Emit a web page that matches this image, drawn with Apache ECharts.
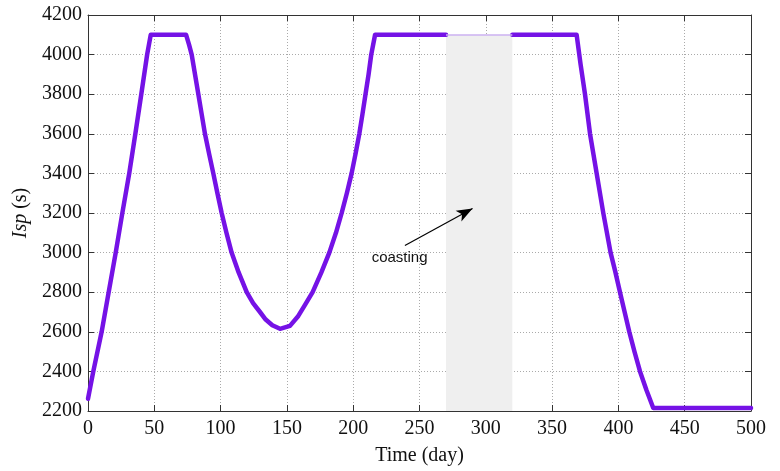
<!DOCTYPE html>
<html>
<head>
<meta charset="utf-8">
<script src="https://cdn.jsdelivr.net/npm/echarts@6/dist/echarts.min.js"></script>
<style>html,body{margin:0;padding:0;background:#fff;}#c{width:780px;height:471px;}</style>
</head>
<body>
<div id="c"></div>
<script>
// Time (day)
const timeDays = [0, 4, 10.3, 15.6, 20.9, 25.9, 31.1, 35.7, 40.2, 44.6, 47.3,
  74, 76.2, 78.2, 80.7, 83.2, 85.7, 88.2, 91.3, 94.5, 97.6, 100.8, 104.4, 108.3, 113.6, 119.7, 124.5, 129.7, 134, 139, 144.8,
  152.3, 158.6, 164, 169.4, 176, 182, 187, 191.3, 195.2, 198.8, 201.8, 204.6, 207, 209.3, 211.6, 213.6, 216.5,
  270, 295, 320,
  368.5, 371.5, 374.8, 378.6, 383.6, 388.6, 394.1, 397.6, 401.2, 404.7, 408.2, 412.2, 416.3, 421.2, 426.3, 500];
// Isp (s); null = coasting gap
const ispValues = [2262, 2400, 2600, 2800, 3000, 3200, 3400, 3600, 3800, 4000, 4100,
  4100, 4050, 4000, 3900, 3800, 3700, 3600, 3500, 3400, 3300, 3200, 3100, 3000, 2900, 2800, 2745, 2700, 2662, 2633, 2615,
  2630, 2680, 2740, 2800, 2900, 3000, 3100, 3200, 3300, 3400, 3500, 3600, 3700, 3800, 3900, 4000, 4100,
  4100, null, 4100,
  4100, 3950, 3800, 3600, 3400, 3200, 3000, 2905, 2800, 2700, 2600, 2498, 2400, 2305, 2215, 2215];
const coastStart = 270, coastEnd = 320, coastTop = 4100;
const xTicks = [0, 50, 100, 150, 200, 250, 300, 350, 400, 450, 500];
const yTicks = [2200, 2400, 2600, 2800, 3000, 3200, 3400, 3600, 3800, 4000, 4200];
const arrowFrom = [239, 3036], arrowTo = [290, 3223];
const notePos = [235, 2971];
const noteText = 'coasting';

const chart = echarts.init(document.getElementById('c'), null, {renderer: 'canvas'});
const serif = 'Liberation Serif, Times New Roman, serif';
const axisCol = '#333';
const xMin = xTicks[0], xMax = xTicks[xTicks.length - 1];
const yMin = yTicks[0], yMax = yTicks[yTicks.length - 1];
const grid = {left: 88, top: 15, right: 29, bottom: 59};
const common = {
  axisLine: {show: true, onZero: false, lineStyle: {color: axisCol, width: 1}},
  axisTick: {show: true, inside: true, length: 6, lineStyle: {color: axisCol}}
};
chart.setOption({
  animation: false,
  backgroundColor: '#fff',
  grid: grid,
  xAxis: [
    Object.assign({}, common, {
      type: 'value', min: xMin, max: xMax, interval: 50, position: 'bottom',
      axisLabel: {color: '#111', fontFamily: serif, fontSize: 20, margin: 8, formatter: v => String(v)},
      splitLine: {show: true, lineStyle: {type: [1, 2], color: '#aaa', width: 1}},
      name: 'Time (day)', nameLocation: 'middle', nameGap: 35,
      nameTextStyle: {color: '#111', fontFamily: serif, fontSize: 20}
    }),
    Object.assign({}, common, {
      type: 'value', min: xMin, max: xMax, interval: 50, position: 'top',
      axisLabel: {show: false}, splitLine: {show: false}
    })
  ],
  yAxis: [
    Object.assign({}, common, {
      type: 'value', min: yMin, max: yMax, interval: 200, position: 'left',
      axisLabel: {color: '#111', fontFamily: serif, fontSize: 20, margin: 6, formatter: v => String(v)},
      splitLine: {show: true, lineStyle: {type: [1, 2], color: '#aaa', width: 1}},
      name: '{i|Isp} (s)', nameLocation: 'middle', nameGap: 55, nameRotate: 90,
      nameTextStyle: {color: '#111', fontFamily: serif, fontSize: 20,
        rich: {i: {fontStyle: 'italic', fontFamily: serif, fontSize: 20, color: '#111'}}}
    }),
    Object.assign({}, common, {
      type: 'value', min: yMin, max: yMax, interval: 200, position: 'right',
      axisLabel: {show: false}, splitLine: {show: false}
    })
  ],
  series: [{
    type: 'line',
    data: timeDays.map((t, i) => [t, ispValues[i]]),
    connectNulls: false,
    showSymbol: false,
    symbol: 'none',
    smooth: false,
    lineStyle: {color: '#7512e6', width: 4.5, cap: 'round', join: 'round'},
    z: 3,
    markArea: {
      silent: true,
      itemStyle: {color: '#efefef'},
      data: [[{coord: [coastStart, yMin]}, {coord: [coastEnd, coastTop]}]]
    },
    markLine: {
      silent: true,
      symbol: 'none',
      label: {show: false},
      data: [
        [{coord: [coastStart, coastTop], lineStyle: {color: '#cdb2f2', width: 1.5, type: 'solid'}},
         {coord: [coastEnd, coastTop]}],
        [{coord: arrowFrom, symbol: 'none', lineStyle: {color: '#000', width: 1.2, type: 'solid'}},
         {coord: arrowTo, symbol: 'arrow', symbolSize: [9, 16]}]
      ]
    },
    markPoint: {
      silent: true,
      symbol: 'circle', symbolSize: 0,
      data: [{coord: notePos, value: noteText,
        label: {show: true, formatter: noteText, position: 'inside', color: '#111',
          fontFamily: 'Liberation Sans, Arial, sans-serif', fontSize: 15}}]
    }
  }]
});
</script>
</body>
</html>
